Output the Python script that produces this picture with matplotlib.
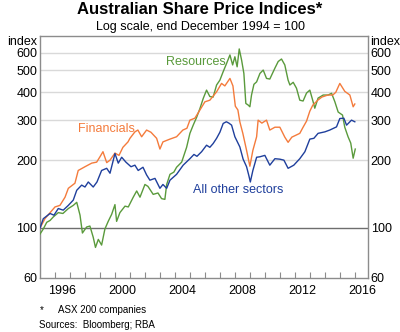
import matplotlib
matplotlib.use("Agg")
import matplotlib.pyplot as plt
import matplotlib.transforms as mtransforms
from matplotlib.ticker import NullLocator

plt.rcParams['font.family'] = ['Liberation Sans', 'DejaVu Sans']

# decimal years, index values (end Dec 1994 = 100)
fin_t = [1995.00, 1995.33, 1996.00, 1996.33, 1996.67, 1996.89, 1997.33, 1997.55, 1998.00, 1998.45,
         1998.78, 1999.00, 1999.20, 1999.45, 1999.67, 2000.00, 2000.27, 2000.53, 2000.87, 2001.00,
         2001.33, 2001.53, 2001.78, 2002.11, 2002.40, 2002.78, 2003.00, 2003.20, 2003.67, 2004.11,
         2004.53, 2004.80, 2005.00, 2005.33, 2005.67, 2006.00, 2006.33, 2006.78, 2007.11, 2007.33,
         2007.67, 2007.87, 2008.03, 2008.20, 2008.33, 2008.53, 2008.78, 2009.00, 2009.20, 2009.45,
         2009.55, 2009.80, 2010.11, 2010.33, 2010.67, 2011.00, 2011.33, 2011.55, 2011.80, 2012.07,
         2012.33, 2012.55, 2012.78, 2013.00, 2013.20, 2013.53, 2013.80, 2014.20, 2014.53, 2014.73,
         2015.00, 2015.33, 2015.67, 2015.89, 2016.00]
fin_v = [100, 110, 124, 126, 137, 150, 158, 180, 187, 194,
         196, 207, 218, 195, 200, 215, 210, 228, 241, 250,
         267, 272, 254, 272, 266, 250, 224, 241, 248, 254,
         272, 277, 301, 307, 334, 363, 369, 402, 438, 427,
         461, 427, 347, 334, 296, 263, 221, 188, 221, 254,
         301, 292, 301, 272, 280, 280, 253, 240, 253, 258,
         263, 280, 298, 330, 351, 369, 381, 389, 389, 400,
         438, 404, 389, 345, 355]

oth_t = [1995.00, 1995.22, 1995.67, 1995.93, 1996.22, 1996.55, 1996.89, 1997.22, 1997.45, 1997.78,
         1998.00, 1998.22, 1998.55, 1998.80, 1999.11, 1999.45, 1999.67, 2000.00, 2000.22, 2000.45,
         2000.73, 2001.07, 2001.33, 2001.55, 2001.87, 2002.11, 2002.33, 2002.67, 2003.00, 2003.20,
         2003.45, 2003.67, 2004.11, 2004.55, 2005.00, 2005.27, 2005.47, 2005.78, 2006.11, 2006.33,
         2006.55, 2006.78, 2007.00, 2007.22, 2007.43, 2007.60, 2007.78, 2008.00, 2008.33, 2008.55,
         2008.78, 2008.93, 2009.03, 2009.20, 2009.45, 2009.67, 2010.00, 2010.33, 2010.67, 2011.00,
         2011.27, 2011.55, 2011.93, 2012.33, 2012.67, 2013.00, 2013.27, 2013.55, 2014.00, 2014.33,
         2014.78, 2015.00, 2015.27, 2015.45, 2015.78, 2016.00]
oth_v = [100, 110, 116, 114, 122, 120, 126, 133, 147, 155,
         152, 160, 152, 160, 180, 184, 175, 214, 194, 206,
         196, 187, 190, 180, 186, 172, 163, 166, 150, 156,
         150, 163, 173, 190, 203, 212, 208, 218, 233, 228,
         237, 250, 266, 291, 296, 292, 286, 254, 229, 202,
         187, 171, 160, 180, 206, 207, 210, 190, 203, 202,
         200, 184, 190, 203, 218, 248, 250, 263, 267, 272,
         281, 306, 307, 286, 301, 296]

res_t = [1995.00, 1995.22, 1995.45, 1995.67, 1995.89, 1996.22, 1996.53, 1996.89, 1997.22, 1997.45,
         1997.67, 1997.83, 1998.11, 1998.33, 1998.55, 1998.70, 1998.89, 1999.11, 1999.33, 1999.55,
         1999.78, 2000.00, 2000.11, 2000.33, 2000.67, 2000.89, 2001.22, 2001.45, 2001.67, 2002.00,
         2002.20, 2002.55, 2002.87, 2003.11, 2003.33, 2003.45, 2003.67, 2003.93, 2004.11, 2004.45,
         2004.78, 2005.00, 2005.22, 2005.45, 2005.67, 2005.89, 2006.11, 2006.33, 2006.55, 2006.78,
         2007.00, 2007.22, 2007.45, 2007.67, 2007.85, 2008.00, 2008.15, 2008.29, 2008.45, 2008.60,
         2008.73, 2008.89, 2009.00, 2009.11, 2009.27, 2009.45, 2009.67, 2009.89, 2010.11, 2010.33,
         2010.67, 2010.89, 2011.11, 2011.33, 2011.55, 2011.67, 2011.89, 2012.11, 2012.33, 2012.55,
         2012.78, 2013.00, 2013.22, 2013.33, 2013.55, 2013.89, 2014.22, 2014.45, 2014.67, 2014.89,
         2015.18, 2015.33, 2015.55, 2015.73, 2015.89, 2016.03]
res_v = [94, 99, 106, 108, 112, 117, 116, 122, 126, 130,
         114, 95, 101, 102, 91, 82, 89, 84, 99, 107,
         115, 127, 107, 117, 125, 124, 137, 146, 137, 156,
         153, 141, 143, 135, 134, 156, 173, 177, 186, 196,
         228, 263, 286, 310, 339, 376, 409, 383, 381, 431,
         453, 494, 538, 586, 529, 575, 519, 623, 555, 485,
         357, 351, 345, 389, 434, 445, 485, 502, 461, 458,
         512, 548, 562, 529, 453, 431, 443, 417, 369, 366,
         397, 409, 363, 340, 377, 389, 389, 396, 363, 327,
         317, 280, 254, 238, 204, 224]

y_ticks = [60, 100, 200, 300, 400, 500, 600]
year_labels = [1996, 2000, 2004, 2008, 2012, 2016]

c_fin = '#f47b3c'
c_oth = '#1f3f9c'
c_res = '#5a9a3c'
c_frame = '#8c8c8c'

fig = plt.figure(figsize=(4.0, 3.32), dpi=100)
ax = fig.add_axes([0.1, 1 - 278 / 332, 0.82, (278 - 36) / 332])

ax.set_yscale('log')
ax.set_ylim(60, 711)
ax.set_xlim(1995, 2016.88)

for g in y_ticks[2:]:
    ax.axhline(g, color='#d9d9d9', lw=1.0, zorder=1)
ax.axhline(100, color='#6e6e6e', lw=1.0, zorder=1)

ax.plot(res_t, res_v, color=c_res, lw=1.0, zorder=3)
ax.plot(fin_t, fin_v, color=c_fin, lw=1.0, zorder=4)
ax.plot(oth_t, oth_v, color=c_oth, lw=1.0, zorder=5)

ax.text(2005.4, 545, 'Resources', color=c_res, fontsize=9, ha='center', va='center')
ax.text(1999.4, 275, 'Financials', color=c_fin, fontsize=9, ha='center', va='center')
ax.text(2008.2, 147, 'All other sectors', color=c_oth, fontsize=9, ha='center', va='center')

ax.set_yticks(y_ticks)
ax.set_yticklabels([str(v) for v in y_ticks])
ax.yaxis.set_minor_locator(NullLocator())
ax.tick_params(axis='y', which='both', length=0, pad=2, labelsize=9,
               labelleft=True, labelright=True)

ax.set_xticks([y + 0.5 for y in year_labels])
ax.set_xticklabels([str(y) for y in year_labels])
ax.set_xticks(list(range(1996, 2017)), minor=True)
ax.tick_params(axis='x', which='major', length=0, pad=5, labelsize=9)
ax.tick_params(axis='x', which='minor', direction='in', length=4, color=c_frame, width=0.8)

for s in ax.spines.values():
    s.set_color(c_frame)
    s.set_linewidth(1.0)

trans = mtransforms.blended_transform_factory(ax.transAxes, ax.transData)
ax.text(-0.008, 668, 'index', transform=trans, ha='right', va='center', fontsize=9)
ax.text(1.008, 668, 'index', transform=trans, ha='left', va='center', fontsize=9)

fig.text(0.5, 1 - 10 / 332, 'Australian Share Price Indices*', ha='center', va='center',
         fontsize=12, fontweight='bold')
fig.text(0.5, 1 - 27 / 332, 'Log scale, end December 1994 = 100', ha='center', va='center',
         fontsize=9)
fig.text(40 / 400, 1 - 310 / 332, '*', ha='left', va='center', fontsize=7)
fig.text(58 / 400, 1 - 310 / 332, 'ASX 200 companies', ha='left', va='center', fontsize=7)
fig.text(39 / 400, 1 - 325 / 332, 'Sources:  Bloomberg; RBA', ha='left', va='center', fontsize=7)

fig.savefig('out.png', dpi=100)
